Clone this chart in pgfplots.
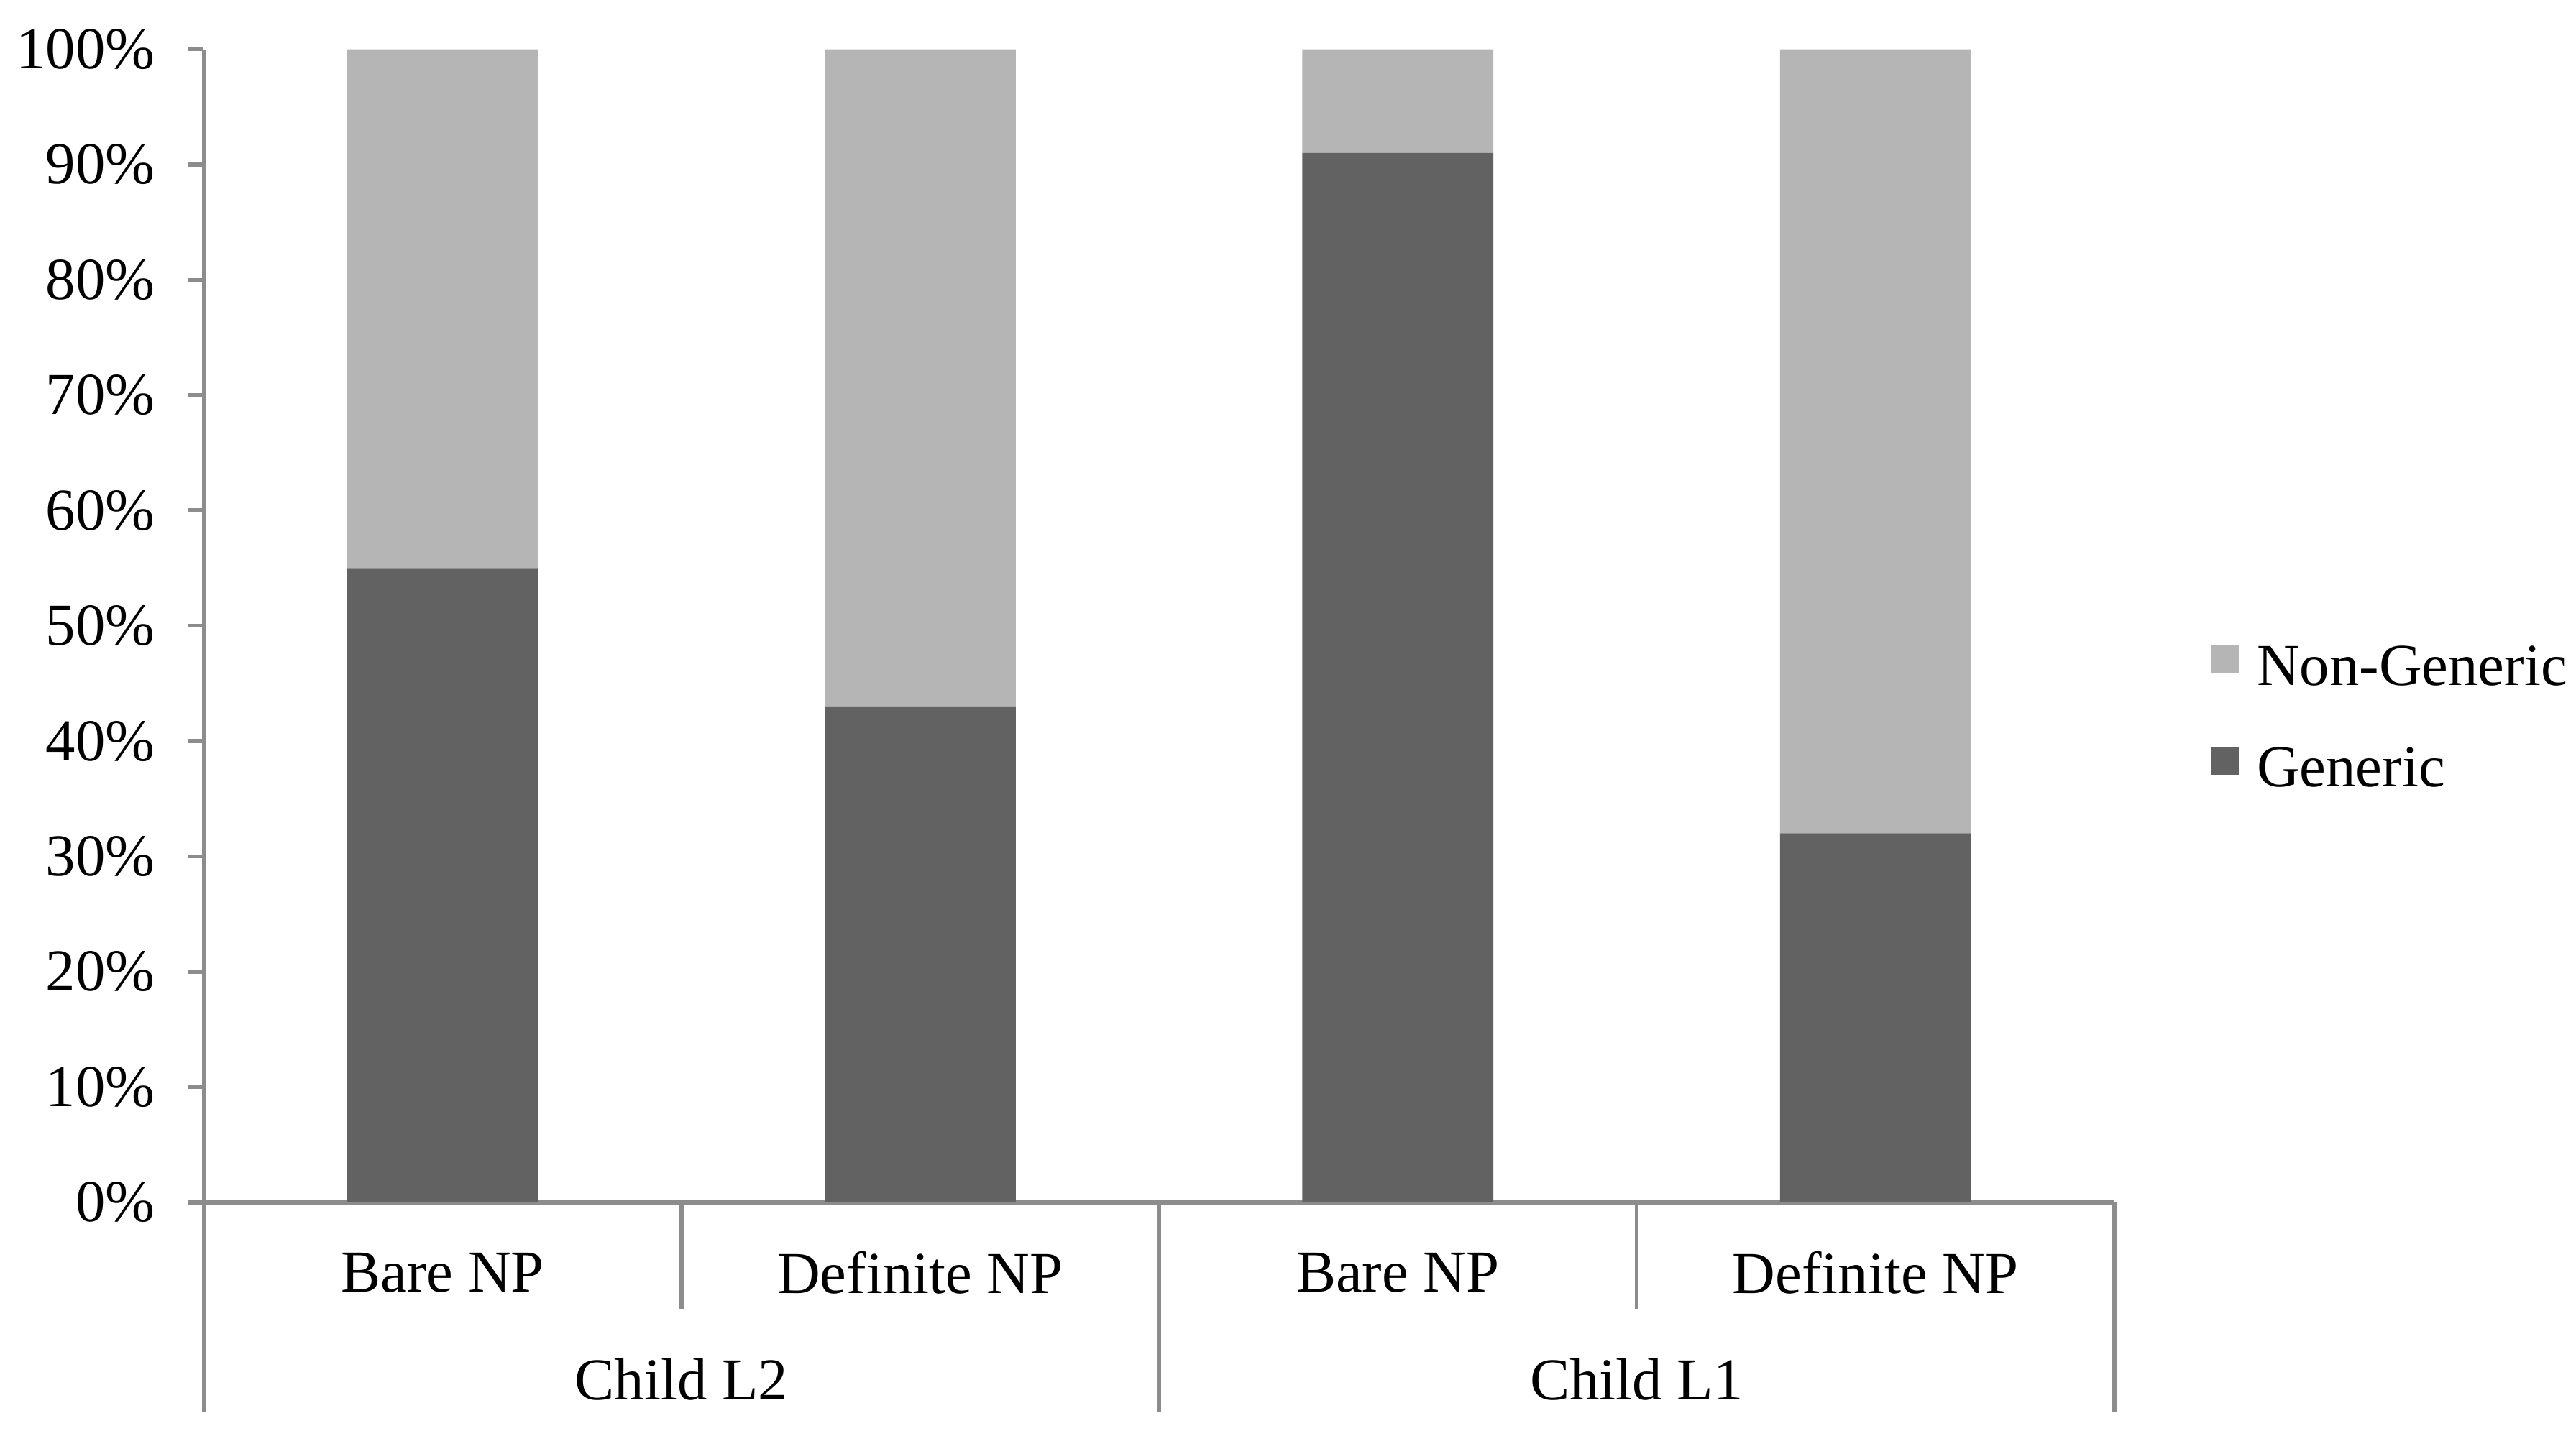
\documentclass[border=0pt]{standalone}
\usepackage{pgfplots}
\pgfplotsset{compat=1.18}
\usepackage{fontspec}
\setmainfont{Liberation Serif}
\definecolor{gen}{HTML}{626262}
\definecolor{nongen}{HTML}{B5B5B5}
\definecolor{axgray}{HTML}{8C8C8C}
\begin{document}
\fontsize{10.3}{12}\selectfont
\begin{tikzpicture}
\useasboundingbox (0,0) rectangle (156.8mm,87.1mm);
\begin{axis}[
  at={(12.4mm,13.9mm)}, anchor=south west,
  scale only axis, width=116.3mm, height=70.2mm,
  ybar stacked, bar width=0.4,
  xmin=-0.5, xmax=3.5, ymin=0, ymax=100,
  enlargelimits=false,
  axis x line*=bottom, axis y line*=left,
  axis line style={-, axgray, line width=0.7pt},
  xtick={0,1,2,3},
  xticklabels={Bare NP, Definite NP, Bare NP, Definite NP},
  x tick style={draw=none},
  xticklabel style={anchor=center, yshift=-3.3mm, inner sep=0pt},
  ytick={0,10,...,100},
  yticklabel={\pgfmathprintnumber{\tick}\%},
  /pgf/number format/assume math mode=true,
  y tick style={axgray, line width=0.7pt},
  tick align=outside, major tick length=1mm,
  yticklabel style={anchor=east, inner sep=0pt, xshift=-1.9mm},
  clip=false,
  reverse legend,
  legend cell align=left,
  legend style={at={(1,0.418)}, anchor=west, xshift=5.8mm, draw=none, fill=none,
    inner sep=0pt, row sep=3.2mm, nodes={inner sep=0pt},
    /tikz/every odd column/.append style={column sep=1.1mm}},
  legend image code/.code={\fill[#1] (0mm,-0.2mm) rectangle (1.7mm,1.5mm);},
]
\addplot[fill=gen, draw=none] coordinates {(0,55) (1,43) (2,91) (3,32)};
\addplot[fill=nongen, draw=none] coordinates {(0,45) (1,57) (2,9) (3,68)};
\legend{Generic, Non-Generic}
\draw[axgray, line width=0.7pt] (axis cs:-0.5,0) -- ++(0pt,-12.8mm);
\draw[axgray, line width=0.7pt] (axis cs:0.5,0) -- ++(0pt,-6.5mm);
\draw[axgray, line width=0.7pt] (axis cs:1.5,0) -- ++(0pt,-12.8mm);
\draw[axgray, line width=0.7pt] (axis cs:2.5,0) -- ++(0pt,-6.5mm);
\draw[axgray, line width=0.7pt] (axis cs:3.5,0) -- ++(0pt,-12.8mm);
\node[inner sep=0pt] at ([yshift=-10.8mm]axis cs:0.5,0) {Child L2};
\node[inner sep=0pt] at ([yshift=-10.8mm]axis cs:2.5,0) {Child L1};
\end{axis}
\end{tikzpicture}
\end{document}
